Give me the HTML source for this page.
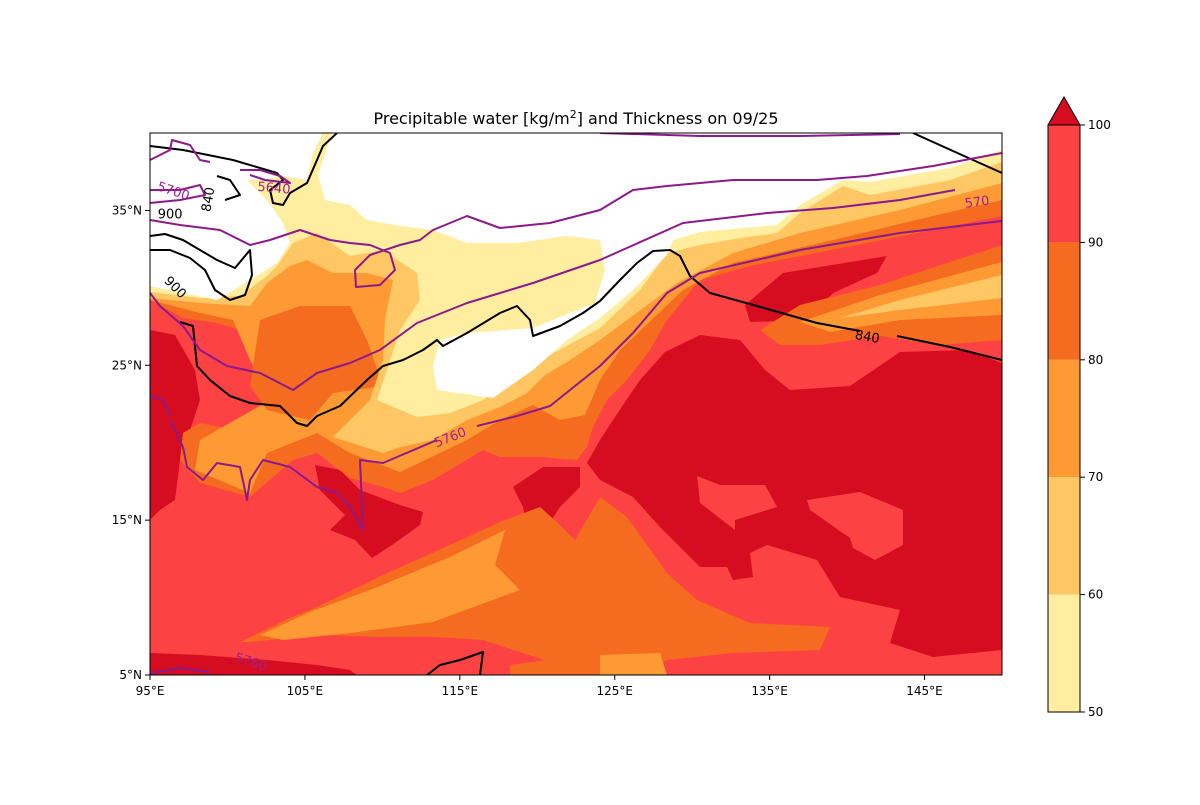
<!DOCTYPE html>
<html><head><meta charset="utf-8"><style>
body{margin:0;background:#fff}
svg text{font-family:"DejaVu Sans","Liberation Sans",sans-serif}
</style></head><body>
<svg id="chart" width="1200" height="800" viewBox="0 0 1200 800">
<defs><clipPath id="mc"><rect x="150" y="133" width="852" height="542"/></clipPath></defs>
<text x="576" y="124" text-anchor="middle" font-size="16">Precipitable water [kg/m<tspan dy="-6" font-size="11">2</tspan><tspan dy="6">] and Thickness on 09/25</tspan></text>
<g clip-path="url(#mc)">
<rect x="150" y="133" width="852" height="542" fill="#fc4242"/>
<path fill="#d60d20" d="M587,463 L600,440 L613,420 L640,380 L665,352 L700,335 L740,340 L765,370 L790,390 L850,386 L900,352 L967,350 L1002,363 L1002,650 L933,657 L890,643 L900,610 L840,597 L817,560 L767,545 L750,553 L753,577 L733,580 L727,567 L700,567 L660,527 L633,497 L600,480 Z"/>
<path fill="#fc4242" d="M697,476 L720,485 L765,485 L777,507 L735,520 L735,530 L700,503 Z"/>
<path fill="#fc4242" d="M807,500 L860,492 L903,510 L903,545 L875,560 L853,548 L850,538 L810,510 Z"/>
<path fill="#d60d20" d="M745,305 L783,273 L887,256 L877,273 L833,293 L807,320 L750,322 Z"/>
<path fill="#f56b1f" d="M760,330 L800,305 L880,285 L950,262 L1002,245 L1002,340 L940,345 L880,336 L820,345 L780,345 Z"/>
<path fill="#fd9a33" d="M800,322 L880,295 L1002,262 L1002,315 L900,320 L830,332 Z"/>
<path fill="#fec763" d="M840,318 L900,300 L1002,275 L1002,298 L900,310 Z"/>
<path fill="#d60d20" d="M150,330 L175,335 L195,370 L200,400 L190,430 L180,460 L175,500 L160,510 L150,520 Z"/>
<path fill="#d60d20" d="M315,465 L340,470 L360,490 L400,505 L423,512 L420,525 L392,545 L372,558 L355,540 L330,530 L345,515 L320,490 Z"/>
<path fill="#d60d20" d="M513,487 L543,467 L580,467 L580,487 L560,507 L547,527 L527,527 L523,507 Z"/>
<path fill="#d60d20" d="M150,653 L200,655 L267,660 L317,665 L350,670 L357,675 L150,675 Z"/>
<path fill="#d60d20" d="M540,630 L600,625 L600,645 L540,642 Z"/>
<path fill="#f56b1f" d="M240,642 L290,618 L317,607 L383,575 L450,545 L500,522 L540,507 L560,525 L575,540 L600,497 L627,517 L667,573 L697,600 L750,623 L830,627 L820,650 L733,653 L667,660 L633,675 L600,672 L550,662 L483,640 L433,637 L383,637 L317,635 L250,642 Z"/>
<path fill="#fd9a33" d="M260,635 L310,612 L375,588 L450,557 L505,530 L495,565 L520,590 L433,622 L350,633 L283,640 Z"/>
<path fill="#fd9a33" d="M600,655 L660,653 L667,675 L600,675 Z"/>
<path fill="#f56b1f" d="M510,665 L560,658 L600,660 L600,675 L510,675 Z"/>
<path fill="#f56b1f" d="M150,300 L183,318 L217,323 L250,333 L257,373 L277,400 L290,423 L250,433 L200,423 L183,433 L180,460 L200,483 L250,497 L293,460 L317,453 L350,478 L383,487 L400,493 L433,480 L483,450 L500,457 L540,457 L577,460 L587,447 L593,427 L607,400 L627,380 L650,350 L667,320 L700,280 L750,266 L867,243 L1002,216 L1002,133 L150,133 Z"/>
<path fill="#fd9a33" d="M150,300 L200,313 L233,320 L250,360 L270,400 L200,440 L195,470 L250,493 L267,453 L317,433 L350,453 L400,472 L467,440 L500,420 L533,405 L560,420 L585,415 L600,380 L620,350 L683,290 L733,263 L833,240 L933,216 L1002,200 L1002,133 L150,133 Z"/>
<path fill="#f56b1f" d="M260,320 L300,306 L350,306 L367,340 L383,386 L333,393 L310,420 L267,410 L250,386 Z"/>
<path fill="#fec763" d="M150,298 L200,303 L250,306 L267,283 L290,266 L307,260 L333,273 L367,273 L393,280 L385,320 L383,360 L370,400 L345,425 L333,437 L383,453 L400,447 L433,440 L467,420 L500,407 L527,393 L545,375 L570,360 L600,340 L677,283 L733,253 L800,233 L900,210 L1002,183 L1002,133 L150,133 Z"/>
<path fill="#ffeda0" d="M150,292 L200,298 L240,296 L267,276 L277,266 L293,243 L317,233 L350,256 L383,250 L417,273 L420,300 L400,330 L377,400 L417,417 L450,413 L483,400 L510,380 L550,355 L600,328 L640,290 L667,253 L700,245 L740,238 L777,233 L800,213 L843,186 L870,195 L950,180 L1002,162 L1002,133 L150,133 Z"/>
<path fill="#fff" d="M150,133 L323,133 L313,153 L307,180 L283,176 L263,180 L247,180 L267,200 L283,223 L290,243 L277,263 L250,280 L217,300 L183,293 L150,286 Z"/>
<path fill="#fff" d="M332,133 L1002,133 L1002,150 L950,168 L870,182 L843,180 L800,205 L777,225 L700,232 L673,240 L667,255 L633,290 L600,318 L567,340 L533,370 L493,398 L437,390 L433,366 L440,340 L467,333 L533,328 L595,303 L605,270 L600,240 L567,236 L517,243 L467,243 L433,230 L400,226 L367,220 L350,205 L325,200 L318,175 Z"/>
<g fill="none" stroke-width="2" stroke-linejoin="round">
<polyline stroke="#000" points="180,322 193,326 197,366 210,380 230,396 250,403 280,406 297,423 307,426 317,416 340,406 367,380 383,366 403,360 423,350 437,340 443,346 467,333 500,313 517,306 530,320 533,336 560,326 583,313 600,301 620,280 637,263 653,251 670,250 680,256 690,276 710,293 757,306 817,323 860,331"/>
<polyline stroke="#000" points="897,336 950,347 1002,360"/>
<polyline stroke="#000" points="913,133 973,160 1002,173"/>
<polyline stroke="#000" points="150,146 183,150 233,160 277,173 283,180 270,190 273,203 283,205 290,193 307,183 317,160 323,146 337,133"/>
<polyline stroke="#000" points="150,236 165,234 183,240 200,250 217,260 235,268 250,250 252,275 245,295 230,300 215,290 205,270 190,258 170,250 150,250"/>
<polyline stroke="#000" points="217,176 230,180 240,195 225,200"/>
<polyline stroke="#000" points="427,675 440,665 460,660 483,652 480,675"/>
<polyline stroke="#8b1a8b" points="150,160 170,150 172,140 190,145 200,160 210,162"/>
<polyline stroke="#8b1a8b" points="240,170 260,170 280,176 290,183 265,180 250,175"/>
<polyline stroke="#8b1a8b" points="150,190 180,190 200,185 205,195 180,200 150,203"/>
<polyline stroke="#8b1a8b" points="150,220 180,225 220,230 250,245 270,240 300,230 330,240 350,243 370,245 390,253 395,270 380,285 356,287 355,270 370,255 400,245 420,240 433,230 467,216 500,228 550,223 600,210 633,190 667,186 733,180 817,180 867,176 933,166 1002,153"/>
<polyline stroke="#8b1a8b" points="600,133 700,136 800,136 900,134"/>
<polyline stroke="#8b1a8b" points="150,293 160,306 183,326 200,350 227,366 260,373 293,390 317,373 350,363 380,350 417,323 467,303 533,283 600,260 683,223 767,213 833,208 900,200 955,190"/>
<polyline stroke="#8b1a8b" points="170,420 183,447 187,467 203,480 217,463 240,467 247,500 250,480 263,460 290,467 317,487 337,493 350,507 363,530 360,460 383,463 437,440"/>
<polyline stroke="#8b1a8b" points="477,426 517,416 550,406 600,366 633,333 667,293 700,273 800,250 900,233 1002,221"/>
<polyline stroke="#8b1a8b" points="150,396 163,400 170,416"/>
<polyline stroke="#8b1a8b" points="150,673 180,668 210,672"/>
</g>
</g>
<rect x="150" y="133" width="852" height="542" fill="none" stroke="#000" stroke-width="1"/>
<g id="axes"></g>
<g id="cbar"></g>
<g id="clabels"></g>
</svg>
<script>
const lonTicks=[95,105,115,125,135,145];
const latTicks=[5,15,25,35];
const cbLevels=[50,60,70,80,90,100];
const cbColors=["#ffeda0","#fec763","#fd9a33","#f56b1f","#fc4242"];
const cbExtendColor="#d60d20";
const contourLabelText=["5640","5700","840","900","900","5760","840","570","5760"];
const contourLabelLon=[103.0,96.5,98.8,96.3,96.6,114.4,141.3,148.4,101.5];
const contourLabelLat=[36.4,36.2,35.7,34.7,30.0,20.3,26.8,35.5,5.8];
const contourLabelRot=[5,18,-80,0,45,-22,10,-8,18];
const NS="http://www.w3.org/2000/svg";
const xs=l=>150+(l-95)*852/55;
const ys=l=>675-(l-5)*542/35;
function mk(t,a,p){const e=document.createElementNS(NS,t);for(const k in a)e.setAttribute(k,a[k]);p.appendChild(e);return e;}
const ax=document.getElementById('axes');
lonTicks.forEach(l=>{
 const t=mk('line',{x1:xs(l),x2:xs(l),y1:675,y2:680,stroke:'#000'},ax);
 
 
 const tx=mk('text',{x:xs(l),y:695,'text-anchor':'middle','font-size':12},ax);
 tx.textContent=l+'°E';
 
 
});
latTicks.forEach(l=>{
 const t=mk('line',{x1:145,x2:150,y1:ys(l),y2:ys(l),stroke:'#000'},ax);
 
 
 const tx=mk('text',{x:142,y:ys(l)+4,'text-anchor':'end','font-size':12},ax);
 tx.textContent=l+'°N';
 
 
});
const cb=document.getElementById('cbar');
const cy=v=>712-(v-50)*(712-125)/50;
cbColors.forEach((c,i)=>{
 const r=mk('rect',{x:1048,y:cy(cbLevels[i+1]),width:32,height:cy(cbLevels[i])-cy(cbLevels[i+1]),fill:c},cb);
 
 
});
const tri=mk('polygon',{points:'1048,125 1064,97 1080,125',fill:cbExtendColor,stroke:'#000','stroke-width':1},cb);


const fr=mk('rect',{x:1048,y:125,width:32,height:587,fill:'none',stroke:'#000','stroke-width':1},cb);


cbLevels.forEach(v=>{
 const t=mk('line',{x1:1080,x2:1085,y1:cy(v),y2:cy(v),stroke:'#000'},cb);
 
 
 const tx=mk('text',{x:1088,y:cy(v)+4,'font-size':12},cb);
 tx.textContent=v;
 
 
});
const cl=document.getElementById('clabels');
contourLabelText.forEach((s,i)=>{
 const black=(s==='900'||s==='840');
 const x=xs(contourLabelLon[i]),y=ys(contourLabelLat[i]);
 const tx=mk('text',{x:x,y:y,'font-size':13,'text-anchor':'middle','dominant-baseline':'middle',fill:black?'#000':'#a0208f',transform:'rotate('+contourLabelRot[i]+' '+x+' '+y+')'},cl);
 tx.textContent=s;
 
 
});
</script>
</body></html>
